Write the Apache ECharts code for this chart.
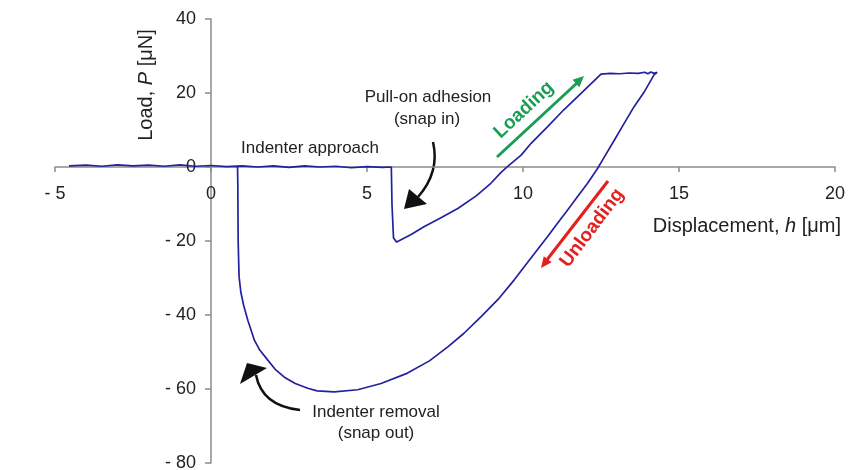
<!DOCTYPE html>
<html>
<head>
<meta charset="utf-8">
<script src="https://cdn.jsdelivr.net/npm/echarts@6/dist/echarts.min.js"></script>
<style>html,body{margin:0;padding:0;background:#fff;}#c{width:852px;height:470px;}</style>
</head>
<body>
<div id="c"></div>
<script>
// Tick settings
var xTicks = {min: -5, max: 20, interval: 5};
var yTicks = {min: -80, max: 40, interval: 20};

// Load-displacement curve segments [h (µm), P (µN)]
var approach = [[-4.55,0.3],[-4.0,0.5],[-3.5,0.2],[-3.0,0.6],[-2.5,0.3],[-2.0,0.5],[-1.5,0.2],[-1.0,0.6],[-0.5,0.2],[0,0.4],[0.5,0.1],[1.0,0.3],[1.5,0.0],[2.0,0.3],[2.5,-0.1],[3.0,0.3],[3.5,0.0],[4.0,0.2],[4.5,-0.2],[5.0,0.1],[5.5,-0.1],[5.78,0.0]];
var snapIn = [[5.8,-10],[5.85,-19.2],[5.95,-20.3]];
var loading = [[6.4,-18.3],[6.84,-16.1],[7.4,-13.6],[7.91,-11.2],[8.5,-7.8],[8.97,-4.4],[9.29,-1.5],[9.5,0.1],[9.94,3.2],[10.26,6.4],[10.79,10.9],[11.3,15.4],[11.86,19.9],[12.5,25.1]];
var hold = [[12.8,25.3],[13.1,25.2],[13.4,25.4],[13.7,25.3],[13.9,25.6],[14.0,25.2],[14.1,25.7],[14.2,25.3],[14.3,25.6],[14.32,25.4]];
var unloading = [[14.2,24.9],[13.9,20.5],[13.56,16.3],[13.2,11.2],[12.93,7.3],[12.6,2.6],[12.39,-0.4],[12.07,-4.4],[11.75,-8.0],[11.43,-11.6],[11.1,-15.3],[10.79,-18.8],[10.2,-25.2],[9.72,-30.5],[9.2,-35.8],[8.65,-40.5],[8.1,-45.0],[7.59,-48.6],[7.0,-52.4],[6.3,-55.7],[5.45,-58.5],[4.7,-60.2],[3.95,-60.8],[3.4,-60.5],[3.1,-59.8],[2.7,-58.5],[2.35,-56.8],[2.05,-54.6],[1.82,-52.2],[1.55,-49.3],[1.39,-46.8],[1.18,-41.4],[1.05,-37.5],[0.96,-34],[0.9,-29.7],[0.87,-20],[0.86,-5],[0.85,0.2]];

var curve = approach.concat(snapIn, loading, hold, unloading);

var FONT = "'Liberation Sans', Arial, sans-serif";
function fmt(v){ return v < 0 ? '- ' + Math.abs(v) : String(v); }

function arrowHead(tip, from, len, half){
  var dx = tip[0]-from[0], dy = tip[1]-from[1];
  var L = Math.sqrt(dx*dx+dy*dy); dx/=L; dy/=L;
  var bx = tip[0]-dx*len, by = tip[1]-dy*len;
  return [tip, [bx - dy*half, by + dx*half], [bx + dy*half, by - dx*half]];
}

var G = {left: 55, right: 17, top: 19, bottom: 7, w: 852, h: 470};
var gw = G.w - G.left - G.right, gh = G.h - G.top - G.bottom;
// shift axes so they cross at the origin
var xOffset = -Math.round(gh * (0 - yTicks.min) / (yTicks.max - yTicks.min));
var yOffset = -Math.round(gw * (0 - xTicks.min) / (xTicks.max - xTicks.min));

var chart = echarts.init(document.getElementById('c'));
var txt = '#222';
var option = {
  animation: false,
  backgroundColor: '#fff',
  grid: {left: G.left, right: G.right, top: G.top, bottom: G.bottom, containLabel: false, outerBoundsMode: 'none'},
  xAxis: {
    type: 'value', min: xTicks.min, max: xTicks.max, interval: xTicks.interval,
    position: 'bottom', offset: xOffset,
    axisLine: {onZero: false, lineStyle: {color: '#8c8c8c', width: 1.5}},
    axisTick: {show: true, length: 5, lineStyle: {color: '#8c8c8c', width: 1.5}},
    axisLabel: {formatter: fmt, color: txt, fontSize: 18, fontFamily: FONT, margin: 18},
    splitLine: {show: false}
  },
  yAxis: {
    type: 'value', min: yTicks.min, max: yTicks.max, interval: yTicks.interval,
    position: 'left', offset: yOffset,
    axisLine: {onZero: false, lineStyle: {color: '#8c8c8c', width: 1.5}},
    axisTick: {show: true, length: 6, lineStyle: {color: '#8c8c8c', width: 1.5}},
    axisLabel: {formatter: fmt, color: txt, fontSize: 18, fontFamily: FONT, margin: 15},
    splitLine: {show: false}
  },
  series: [{
    type: 'line', data: curve, showSymbol: false, symbol: 'none',
    lineStyle: {color: '#2222a0', width: 1.7}, z: 3
  }],
  graphic: [
    {type: 'text', x: 146, y: 85, rotation: Math.PI/2,
      style: {text: '{a|Load, }{b|P}{a| [μN]}', align: 'center', verticalAlign: 'middle',
        rich: {a: {fontSize: 20, fontFamily: FONT, fill: txt}, b: {fontSize: 20, fontFamily: FONT, fontStyle: 'italic', fill: txt}}}},
    {type: 'text', x: 841, y: 226,
      style: {text: '{a|Displacement, }{b|h}{a| [μm]}', align: 'right', verticalAlign: 'middle',
        rich: {a: {fontSize: 20, fontFamily: FONT, fill: txt}, b: {fontSize: 20, fontFamily: FONT, fontStyle: 'italic', fill: txt}}}},
    {type: 'text', x: 310, y: 148, style: {text: 'Indenter approach', align: 'center', verticalAlign: 'middle', fontSize: 17, fontFamily: FONT, fill: txt}},
    {type: 'text', x: 428, y: 97, style: {text: 'Pull-on adhesion', align: 'center', verticalAlign: 'middle', fontSize: 17, fontFamily: FONT, fill: txt}},
    {type: 'text', x: 427, y: 119, style: {text: '(snap in)', align: 'center', verticalAlign: 'middle', fontSize: 17, fontFamily: FONT, fill: txt}},
    {type: 'text', x: 376, y: 412, style: {text: 'Indenter removal', align: 'center', verticalAlign: 'middle', fontSize: 17, fontFamily: FONT, fill: txt}},
    {type: 'text', x: 376, y: 433, style: {text: '(snap out)', align: 'center', verticalAlign: 'middle', fontSize: 17, fontFamily: FONT, fill: txt}},
    {type: 'text', x: 524, y: 110, rotation: 43*Math.PI/180,
      style: {text: 'Loading', align: 'center', verticalAlign: 'middle', fontSize: 19, fontWeight: 'bold', fontFamily: FONT, fill: '#1a9e55'}},
    {type: 'text', x: 592, y: 228, rotation: 53*Math.PI/180,
      style: {text: 'Unloading', align: 'center', verticalAlign: 'middle', fontSize: 19, fontWeight: 'bold', fontFamily: FONT, fill: '#e3201e'}},
    // green arrow
    {type: 'line', shape: {x1: 497, y1: 157, x2: 577, y2: 83}, style: {stroke: '#1a9e55', lineWidth: 3}},
    {type: 'polygon', shape: {points: arrowHead([584,76],[497,157],11,5)}, style: {fill: '#1a9e55'}},
    // red arrow
    {type: 'line', shape: {x1: 608, y1: 181, x2: 546, y2: 261}, style: {stroke: '#e3201e', lineWidth: 3}},
    {type: 'polygon', shape: {points: arrowHead([541,268],[608,181],11,5)}, style: {fill: '#e3201e'}},
    // snap-in curved arrow
    {type: 'bezierCurve', shape: {x1: 433, y1: 142, cpx1: 440, cpy1: 172, x2: 418, y2: 197}, style: {stroke: '#111', lineWidth: 2.5, fill: null}},
    {type: 'polygon', shape: {points: [[404,209],[409,189],[427,204]]}, style: {fill: '#111'}},
    // snap-out curved arrow
    {type: 'bezierCurve', shape: {x1: 300, y1: 410, cpx1: 262, cpy1: 406, x2: 256, y2: 375}, style: {stroke: '#111', lineWidth: 2.5, fill: null}},
    {type: 'polygon', shape: {points: [[240,384],[247,363],[267,368]]}, style: {fill: '#111'}}
  ]
};
chart.setOption(option);
</script>
</body>
</html>
